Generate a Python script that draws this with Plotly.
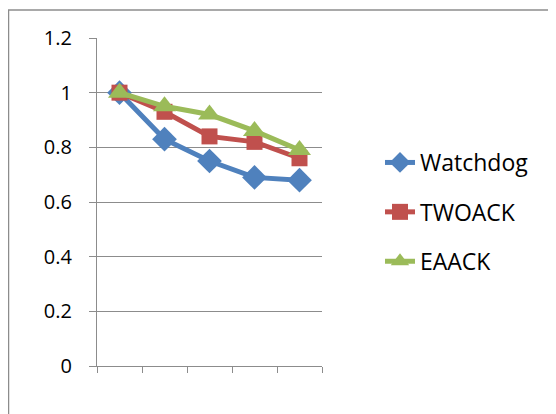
import plotly.graph_objects as go

categories = ["1", "2", "3", "4", "5"]
watchdog = [1.0, 0.83, 0.75, 0.69, 0.68]
twoack = [1.0, 0.93, 0.84, 0.82, 0.76]
eaack = [1.0, 0.95, 0.92, 0.86, 0.79]
y_ticks = [0, 0.2, 0.4, 0.6, 0.8, 1.0, 1.2]

O = 8  # page body margin
W, H = 556 - O, 414 - O
# screen-space target positions
SL, SR, ST, SB = 97, 322, 38, 366
L, T = SL - O, ST - O
R = W - (SR - O)
B = H - (SB - O)
pw, ph = W - L - R, H - T - B

def px(xs):
    return (xs - SL) / pw

def py(ys):
    return (SB - ys) / ph

fig = go.Figure()
series = [
    ("Watchdog", watchdog, "#4F81BD", "diamond", 19),
    ("TWOACK", twoack, "#C0504D", "square", 16),
    ("EAACK", eaack, "#9BBB59", "triangle-up", 20),
]
for name, vals, col, sym, size in series:
    fig.add_trace(go.Scatter(
        x=categories, y=vals, name=name, mode="lines+markers",
        line=dict(color=col, width=5),
        marker=dict(color=col, symbol=sym, size=size),
        legendgroup=name,
    ))

fig.update_layout(
    width=W, height=H,
    margin=dict(l=L, r=R, t=T, b=B, pad=0),
    paper_bgcolor="white", plot_bgcolor="white",
    font=dict(family="Open Sans", color="black"),
    xaxis=dict(type="category", showticklabels=False, tickson="boundaries",
               ticks="outside", ticklen=6, tickcolor="#8c8c8c", tickwidth=1.3,
               showline=True, linecolor="#8c8c8c", linewidth=1.3,
               showgrid=False, zeroline=False, range=[-0.5, 4.5]),
    yaxis=dict(range=[0, 1.2], tickvals=y_ticks, ticks="outside", ticklen=7,
               tickcolor="#8c8c8c", tickwidth=1.3, showline=True,
               linecolor="#8c8c8c", linewidth=1.3, showgrid=True,
               gridcolor="#8c8c8c", gridwidth=1.3, zeroline=False,
               tickfont=dict(size=20), ticklabelstandoff=13),
    legend=dict(x=px(380), y=py(141), xanchor="left", yanchor="top",
                font=dict(size=23), traceorder="grouped", tracegroupgap=16.5,
                bgcolor="rgba(0,0,0,0)"),
    shapes=[
        dict(type="line", xref="paper", yref="paper", x0=px(8), x1=px(570),
             y0=py(10), y1=py(10), line=dict(color="#8c8c8c", width=1.5)),
        dict(type="line", xref="paper", yref="paper", x0=px(8.5), x1=px(8.5),
             y0=py(10), y1=py(430), line=dict(color="#8c8c8c", width=1.5)),
    ],
)

fig.write_html("out.html")
